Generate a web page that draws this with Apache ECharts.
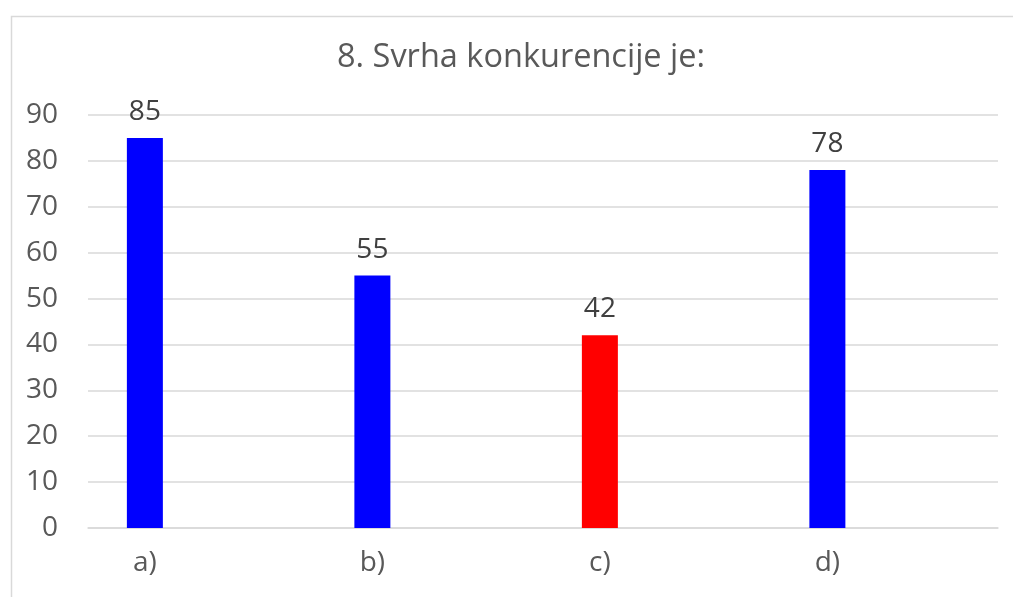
<!DOCTYPE html>
<html>
<head>
<meta charset="utf-8">
<script src="https://cdn.jsdelivr.net/npm/echarts@6/dist/echarts.min.js"></script>
<style>
html,body{margin:0;padding:0;background:#fff;}
#chart{width:1013px;height:597px;}
</style>
</head>
<body>
<div id="chart"></div>
<script>
const titleText = "8. Svrha konkurencije je:";
const categories = ["a)", "b)", "c)", "d)"];
const values = [85, 55, 42, 78];
const barColors = ["#0000FF", "#0000FF", "#FF0000", "#0000FF"];
const yTicks = [0, 10, 20, 30, 40, 50, 60, 70, 80, 90];

const chart = echarts.init(document.getElementById('chart'));
const fontFam = "'Open Sans', 'Noto Sans', sans-serif";
chart.setOption({
  animation: false,
  backgroundColor: '#fff',
  graphic: [{
    type: 'rect', left: 9, top: 14, z: -10,
    shape: { width: 1100, height: 700 },
    style: { fill: 'none', stroke: '#d9d9d9', lineWidth: 1.5 }
  }],
  title: {
    text: titleText, left: 332, top: 36,
    textStyle: { fontFamily: fontFam, fontSize: 32.5, fontWeight: 'normal', color: '#595959' }
  },
  grid: { left: 88, right: 15, top: 115, bottom: 69 },
  xAxis: {
    type: 'value', min: -0.25, max: 3.75,
    splitLine: { show: false },
    axisTick: { show: false },
    axisLine: { show: true, lineStyle: { color: '#d9d9d9', width: 1.5 } },
    axisLabel: {
      customValues: categories.map((c, i) => i),
      formatter: v => categories[Math.round(v)],
      fontFamily: fontFam, fontSize: 28, color: '#595959', margin: 21
    }
  },
  yAxis: {
    type: 'value', min: yTicks[0], max: yTicks[yTicks.length - 1], interval: 10,
    axisLine: { show: false }, axisTick: { show: false },
    splitLine: { lineStyle: { color: '#d9d9d9', width: 1.5 } },
    axisLabel: { fontFamily: fontFam, fontSize: 28, color: '#595959', margin: 30 }
  },
  series: [{
    type: 'bar',
    barWidth: 36,
    data: values.map((v, i) => ({ value: [i, v], itemStyle: { color: barColors[i] } })),
    label: {
      show: true, position: 'top', distance: 12,
      formatter: p => p.value[1],
      fontFamily: fontFam, fontSize: 28, color: '#404040'
    }
  }]
});
</script>
</body>
</html>
